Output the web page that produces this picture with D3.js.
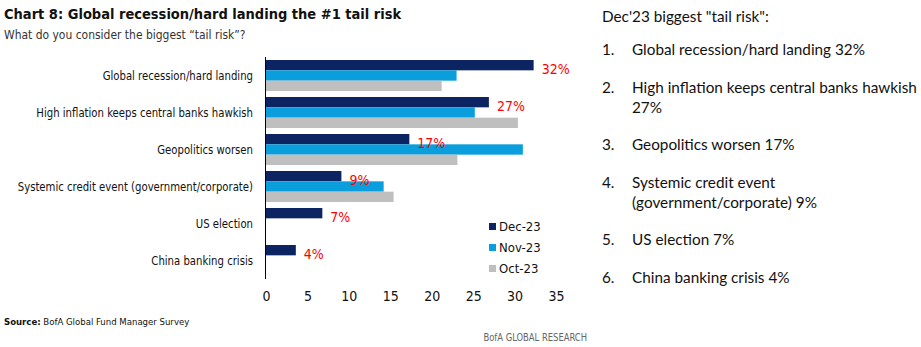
<!DOCTYPE html>
<html>
<head>
<meta charset="utf-8">
<script src="https://cdn.jsdelivr.net/npm/d3@7"></script>
<style>
  body { margin: 0; background: #fff; }
  svg { display: block; }
</style>
</head>
<body>
<div id="chart"></div>
<script>
// chart data
let categories = [
  "Global recession/hard landing",
  "High inflation keeps central banks hawkish",
  "Geopolitics worsen",
  "Systemic credit event (government/corporate)",
  "US election",
  "China banking crisis"
];
let seriesNames = ["Dec-23", "Nov-23", "Oct-23"];
let dec23 = [32.3, 26.9, 17.3, 9.1, 6.8, 3.6];
let nov23 = [23.0, 25.2, 31.0, 14.2, null, null];
let oct23 = [21.2, 30.4, 23.1, 15.4, null, null];
let decLabels = ["32%", "27%", "17%", "9%", "7%", "4%"];
let xTicks = [0, 5, 10, 15, 20, 25, 30, 35];

let listItems = [
  ["Global recession/hard landing 32%"],
  ["High inflation keeps central banks hawkish", "27%"],
  ["Geopolitics worsen 17%"],
  ["Systemic credit event", "(government/corporate) 9%"],
  ["US election 7%"],
  ["China banking crisis 4%"]
];

let width = 921, height = 347;
let narrow = "'DejaVu Sans Condensed', 'Liberation Sans Narrow', sans-serif";
let colors = d3.scaleOrdinal().domain(seriesNames).range(["#0c2461", "#0a9fdc", "#bfbfbf"]);

let svg = d3.select("#chart").append("svg")
  .attr("width", width)
  .attr("height", height);

// text squeezed sideways to mimic the condensed house font
function narrowText(parent, px, py, sx) {
  return parent.append("text")
    .attr("transform", "translate(" + px + "," + py + ") scale(" + sx + ",1)")
    .attr("font-family", narrow);
}

// titles
svg.append("text")
  .attr("x", 4).attr("y", 19)
  .attr("font-family", narrow).attr("font-weight", "bold")
  .attr("font-size", 14.5).attr("fill", "#111")
  .text("Chart 8: Global recession/hard landing the #1 tail risk");

narrowText(svg, 4, 39, 0.92)
  .attr("font-size", 13).attr("fill", "#333")
  .text("What do you consider the biggest \u201Ctail risk\u201D?");

// scales
let x = d3.scaleLinear().domain([0, 35]).range([266, 556]);
let y = d3.scaleBand().domain(categories).range([57, 279]);
let ySub = d3.scaleBand().domain(seriesNames).range([3, 34]);

let rows = categories.map((c, i) => ({
  cat: c,
  vals: [
    { s: "Dec-23", v: dec23[i] },
    { s: "Nov-23", v: nov23[i] },
    { s: "Oct-23", v: oct23[i] }
  ].filter(d => d.v != null),
  label: decLabels[i],
  dec: dec23[i]
}));

let groups = svg.selectAll("g.row")
  .data(rows)
  .enter()
  .append("g")
  .attr("class", "row")
  .attr("transform", d => "translate(0," + y(d.cat) + ")");

groups.selectAll("rect")
  .data(d => d.vals)
  .enter()
  .append("rect")
  .attr("x", x(0))
  .attr("y", d => ySub(d.s))
  .attr("width", d => x(d.v) - x(0))
  .attr("height", ySub.bandwidth())
  .attr("fill", d => colors(d.s));

// red value labels next to the Dec-23 bar
groups.append("text")
  .attr("x", d => x(d.dec) + 8)
  .attr("y", ySub("Dec-23") + ySub.bandwidth() / 2 + 9)
  .attr("font-family", narrow).attr("font-size", 14)
  .attr("fill", "#ff0000")
  .text(d => d.label);

// category labels
groups.each(function(d) {
  narrowText(d3.select(this), 253, y.bandwidth() / 2 + 4, 0.9)
    .attr("text-anchor", "end")
    .attr("font-size", 12.5)
    .attr("fill", "#111")
    .text(d.cat);
});

// axis line
svg.append("line")
  .attr("x1", x(0) - 0.5).attr("x2", x(0) - 0.5)
  .attr("y1", 57).attr("y2", 279)
  .attr("stroke", "#000").attr("stroke-width", 1);

// x tick labels
let xAxis = svg.append("g")
  .attr("transform", "translate(0,291)")
  .call(d3.axisBottom(x).tickValues(xTicks).tickSize(0).tickPadding(0));
xAxis.select(".domain").remove();
xAxis.selectAll("text")
  .attr("font-family", narrow).attr("font-size", 14)
  .attr("fill", "#111");

// legend
let legend = svg.selectAll("g.legend")
  .data(seriesNames)
  .enter()
  .append("g")
  .attr("class", "legend")
  .attr("transform", (d, i) => "translate(489," + (223 + i * 21) + ")");
legend.append("rect")
  .attr("width", 7).attr("height", 7)
  .attr("fill", d => colors(d));
legend.append("text")
  .attr("x", 10).attr("y", 8)
  .attr("font-family", narrow).attr("font-size", 13)
  .attr("fill", "#111")
  .text(d => d);

// source and footer
let src = svg.append("text")
  .attr("x", 4).attr("y", 325)
  .attr("font-family", narrow).attr("font-size", 9.5)
  .attr("fill", "#111");
src.append("tspan").attr("font-weight", "bold").text("Source:");
src.append("tspan").text("  BofA Global Fund Manager Survey");

narrowText(svg, 587, 341, 0.89)
  .attr("text-anchor", "end")
  .attr("font-size", 10.5)
  .attr("fill", "#666")
  .text("BofA GLOBAL RESEARCH");

// right hand list
let listFont = "Lato, 'Open Sans', sans-serif";
svg.append("text")
  .attr("x", 602).attr("y", 22)
  .attr("font-family", listFont).attr("font-size", 15.3)
  .attr("fill", "#111")
  .text("Dec'23 biggest \"tail risk\":");

let lineY = 55;
listItems.forEach((lines, i) => {
  svg.append("text")
    .attr("x", 602).attr("y", lineY)
    .attr("font-family", listFont).attr("font-size", 15.3)
    .attr("fill", "#111")
    .text((i + 1) + ".");
  lines.forEach((ln, j) => {
    svg.append("text")
      .attr("x", 632).attr("y", lineY + j * 20)
      .attr("font-family", listFont).attr("font-size", 15.3)
      .attr("fill", "#111")
      .text(ln);
  });
  lineY += (lines.length - 1) * 20 + 37.5;
});
</script>
</body>
</html>
